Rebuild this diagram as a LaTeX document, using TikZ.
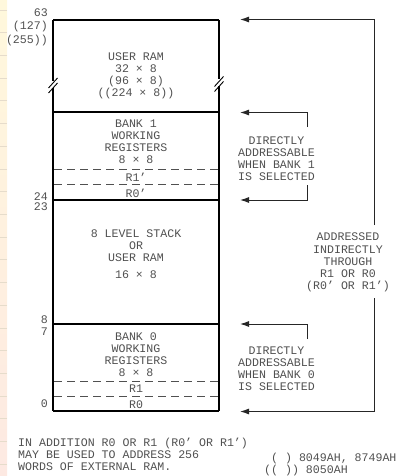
\documentclass[tikz,border=0pt]{standalone}
\usepackage{fontspec}
\setmonofont{Liberation Mono}
\usetikzlibrary{arrows.meta}
\definecolor{txtgray}{HTML}{505050}
\definecolor{stripA}{HTML}{FFF8DC}
\definecolor{stripB}{HTML}{FDE9E2}
\definecolor{tickc}{HTML}{E6DCCB}
\begin{document}
\begin{tikzpicture}[x=1pt,y=-1pt,
  txt/.style={font=\ttfamily\fontsize{11.6}{12.1}\selectfont, text=txtgray, inner sep=0pt, align=center},
  lbl/.style={txt, anchor=east},
  boxline/.style={line width=1.6pt, black},
  divline/.style={line width=1.6pt, black},
  dashline/.style={line width=1pt, txtgray, dash pattern=on 8pt off 5pt},
  arr/.style={line width=1pt, black!85, -{Latex[length=9pt,width=6pt]}},
  brk/.style={line width=0.9pt, black}]
\useasboundingbox (0,0) rectangle (400,476);
% left margin strip
\shade[top color=stripA, bottom color=stripB] (0,0) rectangle (7,476);
\foreach \k in {0,...,20} {\draw[tickc, line width=0.6pt] (0,{10+22.7*\k}) -- (7,{10+22.7*\k});}
% main memory box
\coordinate (TL) at (53,20);
\coordinate (TR) at (219,20);
\coordinate (BL) at (53,411);
\coordinate (BR) at (219,411);
\draw[boxline] (TL) -- (TR);
\draw[boxline] (BL) -- (BR);
\draw[boxline] (TL) -- (53,81) (53,88) -- (BL);
\draw[boxline] (TR) -- (219,79.5) (219,86.5) -- (BR);
% break marks
\draw[brk] (48.5,88) -- (57.5,78) (48.5,93) -- (57.5,83);
\draw[brk] (214.5,86.5) -- (223.5,76.5) (214.5,91.5) -- (223.5,81.5);
% dividers
\draw[divline] (53,112) -- (219,112);
\draw[divline] (53,200) -- (219,200);
\draw[divline] (53,324) -- (219,324);
\draw[dashline] (54,169.5) -- (218,169.5);
\draw[dashline] (54,184.5) -- (218,184.5);
\draw[dashline] (54,381) -- (218,381);
\draw[dashline] (54,396) -- (218,396);
% block texts
\node[txt] (uram) at (136,75.5) {USER RAM\\32 × 8\\(96 × 8)\\((224 × 8))};
\node[txt] (bank1) at (136,142) {BANK 1\\WORKING\\REGISTERS\\8 × 8};
\node[txt] (r1p) at (136,177.5) {R1’};
\node[txt] (r0p) at (136,193) {R0’};
\node[txt] (stack) at (136,245.5) {8 LEVEL STACK\\OR\\USER RAM};
\node[txt] (stsize) at (136,274.3) {16 × 8};
\node[txt] (bank0) at (136,354.5) {BANK 0\\WORKING\\REGISTERS\\8 × 8};
\node[txt] (r1) at (136,389) {R1};
\node[txt] (r0) at (136,404.5) {R0};
% address labels
\node[lbl] (a63) at (48,13) {63};
\node[lbl] (a127) at (48,26.5) {(127)};
\node[lbl] (a255) at (48,40.5) {(255))};
\node[lbl] (a24) at (48,196.5) {24};
\node[lbl] (a23) at (48,207) {23};
\node[lbl] (a8) at (48,319.5) {8};
\node[lbl] (a7) at (48,332) {7};
\node[lbl] (a0) at (48,404) {0};
% right side texts
\node[txt] (dir1) at (276.5,158.5) {DIRECTLY\\ADDRESSABLE\\WHEN BANK 1\\IS SELECTED};
\node[txt] (dir0) at (276.5,369) {DIRECTLY\\ADDRESSABLE\\WHEN BANK 0\\IS SELECTED};
\node[txt] (ind) at (348,262.5) {ADDRESSED\\INDIRECTLY\\THROUGH\\R1 OR R0\\(R0’ OR R1’)};
% arrow coordinates
\coordinate (t1) at (240,19.5);
\coordinate (c1) at (374,19.5);
\coordinate (s1) at (374,225);
\coordinate (s2) at (374,298);
\coordinate (c2) at (374,411.5);
\coordinate (t2) at (240,411.5);
\coordinate (b1s) at (307,127);
\coordinate (b1c) at (307,112.5);
\coordinate (b1t) at (240,112.5);
\coordinate (b1s2) at (307,185);
\coordinate (b1c2) at (307,200);
\coordinate (b1t2) at (240,200);
\coordinate (b0s) at (307,339);
\coordinate (b0c) at (307,324);
\coordinate (b0t) at (240,324);
\draw[arr] (s1) -- (c1) -- (t1);
\draw[arr] (s2) -- (c2) -- (t2);
\draw[arr] (b1s) -- (b1c) -- (b1t);
\draw[arr] (b1s2) -- (b1c2) -- (b1t2);
\draw[arr] (b0s) -- (b0c) -- (b0t);
% bottom notes
\node[txt, align=left, anchor=west] (note) at (18,454) {IN ADDITION R0 OR R1 (R0’ OR R1’)\\MAY BE USED TO ADDRESS 256\\WORDS OF EXTERNAL RAM.};
\node[txt, align=left, anchor=west, font=\ttfamily\fontsize{11.6}{10.8}\selectfont] (legend) at (264,464.5) {\phantom{(}( ) 8049AH, 8749AH\\(( )) 8050AH};
\end{tikzpicture}
\end{document}
